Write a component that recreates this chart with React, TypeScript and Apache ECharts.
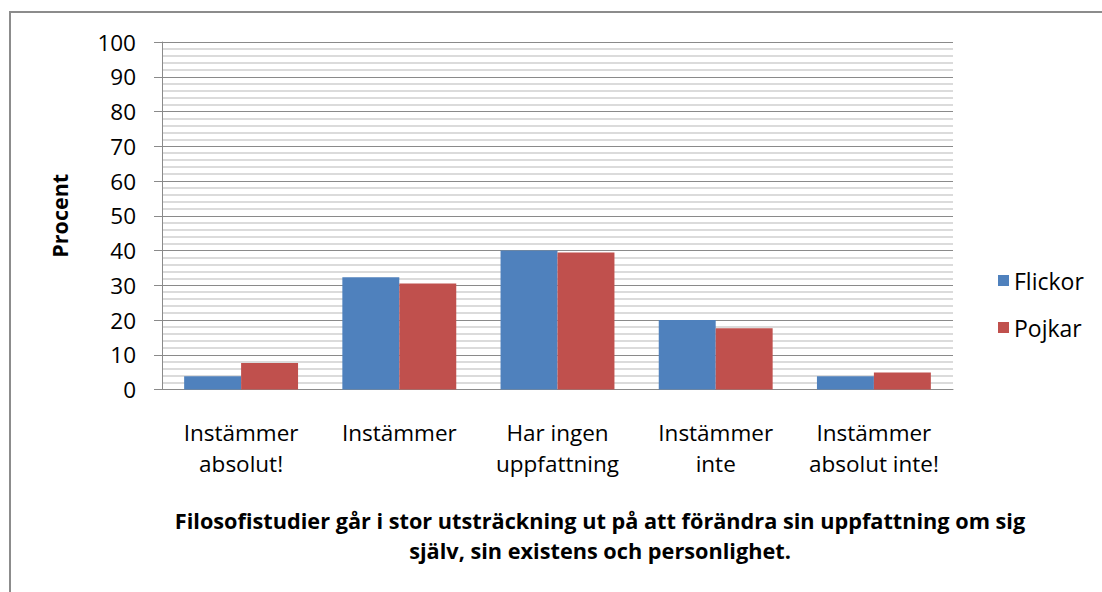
import React, { useEffect, useRef } from "react";
import * as echarts from "echarts";

const categories = [
  "Instämmer\nabsolut!",
  "Instämmer",
  "Har ingen\nuppfattning",
  "Instämmer\ninte",
  "Instämmer\nabsolut inte!",
];
const flickor = [3.8, 32.3, 40.0, 20.0, 3.8];
const pojkar = [7.6, 30.5, 39.4, 17.6, 4.9];
const seriesNames = ["Flickor", "Pojkar"];
const titleLines = [
  "Filosofistudier går i stor utsträckning ut på att förändra sin uppfattning om sig",
  "själv, sin existens och personlighet.",
];
const yAxisName = "Procent";

const FONT = "'Open Sans', sans-serif";

export default function App() {
  const ref = useRef<HTMLDivElement>(null);
  useEffect(() => {
    if (!ref.current) return;
    const chart = echarts.init(ref.current, null, { renderer: "svg" });
    chart.setOption({
      animation: false,
      backgroundColor: "#ffffff",
      textStyle: { fontFamily: FONT },
      graphic: [
        {
          type: "rect",
          shape: { x: 10, y: 12, width: 1200, height: 700 },
          style: { fill: "none", stroke: "#8c8c8c", lineWidth: 2 },
          silent: true,
        },
        {
          type: "text",
          x: 600,
          y: 535,
          style: {
            text: titleLines.join("\n"),
            font: `bold 21.7px ${FONT}`,
            fill: "#000",
            textAlign: "center",
            textVerticalAlign: "middle",
            lineHeight: 30,
          },
        },
      ],
      legend: {
        orient: "vertical",
        left: 993,
        top: 264,
        itemWidth: 11,
        itemHeight: 11,
        itemGap: 24,
        icon: "rect",
        textStyle: { fontSize: 23, color: "#000", fontFamily: FONT },
        data: seriesNames,
      },
      grid: { left: 162, right: 149, top: 42, bottom: 202.5 },
      xAxis: {
        type: "category",
        data: categories,
        axisLine: { show: true, lineStyle: { color: "#8a8a8a", width: 1 } },
        axisTick: { show: false },
        axisLabel: {
          color: "#000",
          fontSize: 22.5,
          lineHeight: 31,
          margin: 27,
          fontFamily: FONT,
          interval: 0,
        },
      },
      yAxis: {
        type: "value",
        min: 0,
        max: 100,
        interval: 10,
        name: yAxisName,
        nameLocation: "middle",
        nameGap: 92,
        nameRotate: 90,
        nameTextStyle: { fontSize: 21.5, fontWeight: "bold", color: "#000", fontFamily: FONT },
        axisLine: { show: true, lineStyle: { color: "#8a8a8a", width: 1 } },
        axisTick: { show: true, length: 8, lineStyle: { color: "#8a8a8a" } },
        axisLabel: { color: "#000", fontSize: 22.5, margin: 26, fontFamily: FONT },
        splitLine: { show: true, lineStyle: { color: "#8a8a8a", width: 1 } },
        minorTick: { show: false, splitNumber: 5 },
        minorSplitLine: { show: true, lineStyle: { color: "#cfcfcf", width: 1.5 } },
      },
      series: [
        {
          name: seriesNames[0],
          type: "bar",
          data: flickor,
          itemStyle: { color: "#4F81BD" },
          barGap: "0%",
          barCategoryGap: "28%",
        },
        {
          name: seriesNames[1],
          type: "bar",
          data: pojkar,
          itemStyle: { color: "#C0504D" },
          barGap: "0%",
          barCategoryGap: "28%",
        },
      ],
    });
    return () => chart.dispose();
  }, []);
  return (
    <div
      ref={ref}
      style={{ position: "absolute", left: 0, top: 0, width: 1102, height: 592 }}
    />
  );
}
